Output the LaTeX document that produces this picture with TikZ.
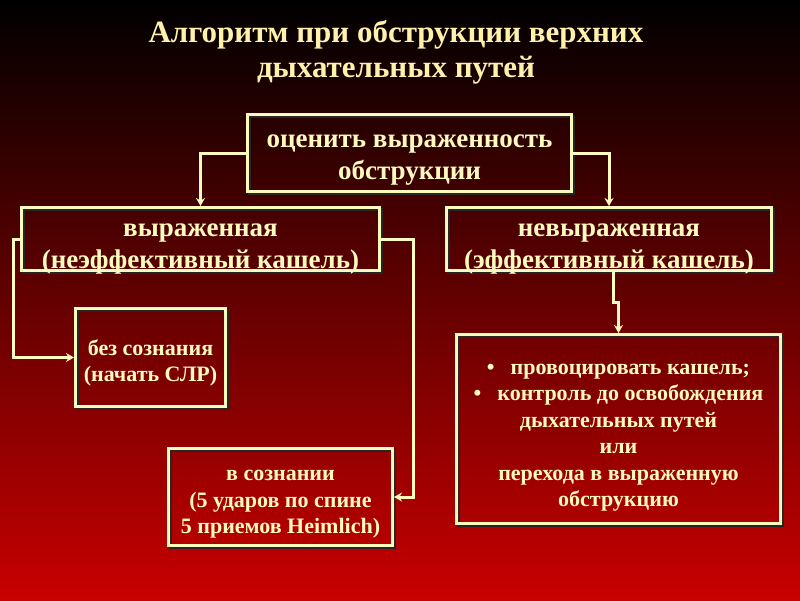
\documentclass[tikz,border=0pt]{standalone}
\usepackage{fontspec}
\setmainfont{Liberation Serif}
\usetikzlibrary{arrows.meta}
\usetikzlibrary{shadows}
\definecolor{cream}{RGB}{255,250,190}
\definecolor{titlecol}{RGB}{255,240,170}
\definecolor{deepred}{RGB}{200,0,0}
\tikzset{
  box/.style={draw=cream, line width=3pt, text=cream, align=center, inner sep=0pt,
    general shadow={draw=black!85, line width=3pt, shadow xshift=2pt, shadow yshift=-2pt}},
  link/.style={draw=cream, line width=3pt, -{Stealth[length=8pt,width=9pt]}},
  bigtext/.style={font=\bfseries\fontsize{27}{32}\selectfont},
  smalltext/.style={font=\bfseries\fontsize{22}{26.5}\selectfont}
}
\begin{document}
\begin{tikzpicture}[x=1pt,y=-1pt]
    \useasboundingbox (0,0) rectangle (800,600);
    \shade[top color=black, bottom color=deepred] (0,0) rectangle (800,600);
    \node[text=titlecol, font=\bfseries\fontsize{31}{35}\selectfont, align=center] (title) at (396,52) {Алгоритм при обструкции верхних\\дыхательных путей};
    \node[box, bigtext, minimum width=324pt, text height=65pt, text depth=12pt] (ocen) at (409.5,153) {оценить выраженность\\обструкции};
    \node[box, bigtext, minimum width=358pt, text height=60.5pt, text depth=2.5pt] (vyr) at (200.5,239) {выраженная\\(неэффективный кашель)};
    \node[box, bigtext, minimum width=325pt, text height=60.5pt, text depth=2.5pt] (nevyr) at (609,239) {невыраженная\\(эффективный кашель)};
    \node[box, smalltext, minimum width=150pt, text height=73pt, text depth=25pt] (bez) at (150.5,357.5) {без сознания\\(начать СЛР)};
    \node[box, smalltext, minimum width=224pt, text height=85pt, text depth=12pt] (vsozn) at (280.5,497) {в сознании\\(5 ударов по спине\\5 приемов Heimlich)};
    \node[box, smalltext, minimum width=324pt, text height=172pt, text depth=17pt] (kontr) at (618.5,429) {\textbullet\hspace{16pt}провоцировать кашель;\\\textbullet\hspace{16pt}контроль до освобождения\\дыхательных путей\\или\\перехода в выраженную\\обструкцию};
    \draw[link] (ocen.west) -| (vyr.north);
    \draw[link] (ocen.east) -| (nevyr.north);
    \draw[link] (vyr.west) -- ++(-7,0) |- (bez.west);
    \draw[link] (vyr.east) -- ++(32,0) |- (vsozn.east);
    \draw[link] ([xshift=4pt]nevyr.south) -- ++(0,30) -| (kontr.north);
\end{tikzpicture}
\end{document}
